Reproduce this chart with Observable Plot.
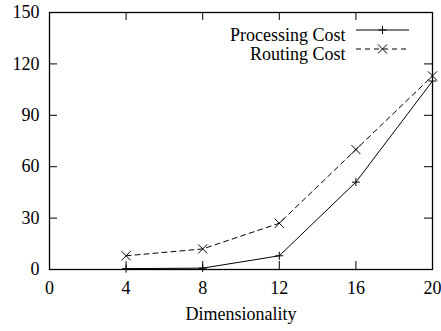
<!DOCTYPE html>
<html>
<head>
<meta charset="utf-8">
<script src="https://cdn.jsdelivr.net/npm/d3@7"></script>
<script src="https://cdn.jsdelivr.net/npm/@observablehq/plot@0.6"></script>
<style>
  html, body { margin: 0; padding: 0; background: white; font-family: 'Liberation Serif', serif; }
</style>
</head>
<body>
<div id="chart"></div>
<script>
const dims = [4, 8, 12, 16, 20];
const processing = [0.5, 0.8, 8, 51, 110];
const routing = [8, 12, 27, 70, 113];
const xTicks = [0, 4, 8, 12, 16, 20];
const yTicks = [0, 30, 60, 90, 120, 150];
const seriesNames = ["Processing Cost", "Routing Cost"];
const xLabel = "Dimensionality";

const procData = dims.map((d, i) => ({dim: d, value: processing[i]}));
const routData = dims.map((d, i) => ({dim: d, value: routing[i]}));

const W = 441, H = 331, mL = 49, mR = 9, mT = 12, mB = 62;
const frameW = W - mL - mR, frameH = H - mT - mB, tick = 8;
const FONT = "'Liberation Serif', serif";

const plot = Plot.plot({
  width: W, height: H,
  marginLeft: mL, marginRight: mR, marginTop: mT, marginBottom: mB,
  style: {fontFamily: FONT, fontSize: "18px"},
  x: {domain: [0, 20]},
  y: {domain: [0, 150]},
  marks: [
    Plot.axisX({ticks: xTicks, tickSize: 0, tickPadding: 12, label: null}),
    Plot.axisY({ticks: yTicks, tickSize: 0, tickPadding: 10, label: null}),
    Plot.tickX(xTicks, {x: d => d, insetTop: frameH - tick, stroke: "black"}),
    Plot.tickX(xTicks, {x: d => d, insetBottom: frameH - tick, stroke: "black"}),
    Plot.tickY(yTicks, {y: d => d, insetRight: frameW - tick, stroke: "black"}),
    Plot.tickY(yTicks, {y: d => d, insetLeft: frameW - tick, stroke: "black"}),
    Plot.line(procData, {x: "dim", y: "value", stroke: "black", strokeWidth: 1}),
    Plot.line(routData, {x: "dim", y: "value", stroke: "black", strokeWidth: 1, strokeDasharray: "5,4"}),
    Plot.dot(procData, {x: "dim", y: "value", symbol: "plus", r: 2.7, stroke: "black", strokeWidth: 1}),
    Plot.dot(routData, {x: "dim", y: "value", symbol: "times", r: 4.2, stroke: "black", strokeWidth: 1}),
    Plot.frame({stroke: "black", strokeWidth: 1.3}),
    Plot.text([xLabel], {text: d => d, frameAnchor: "bottom", dy: 50, fill: "black"}),
    Plot.text([seriesNames[0]], {text: d => d, frameAnchor: "top-right", textAnchor: "end", dx: -87, dy: 16, fill: "black"}),
    Plot.text([seriesNames[1]], {text: d => d, frameAnchor: "top-right", textAnchor: "end", dx: -87, dy: 35, fill: "black"})
  ]
});
document.getElementById("chart").appendChild(plot);

const svg = d3.select(plot);
plot.style.setProperty("font-family", FONT, "important");
svg.selectAll("g, text, tspan").each(function() {
  this.style.setProperty("font-family", FONT, "important");
});

// legend samples
const lx1 = W - mR - 76, lx2 = W - mR - 23, lxm = (lx1 + lx2) / 2;
const rows = [
  {y: mT + 18, dash: null, sym: d3.symbolPlus, r: 2.7},
  {y: mT + 37, dash: "5,4", sym: d3.symbolTimes, r: 4.2}
];
rows.forEach(row => {
  const g = svg.append("g").attr("stroke", "black").attr("fill", "none");
  g.append("line").attr("x1", lx1).attr("x2", lx2).attr("y1", row.y).attr("y2", row.y)
    .attr("stroke-dasharray", row.dash);
  g.append("path").attr("transform", `translate(${lxm},${row.y})`)
    .attr("d", d3.symbol(row.sym, Math.PI * row.r * row.r)());
});
</script>
</body>
</html>
